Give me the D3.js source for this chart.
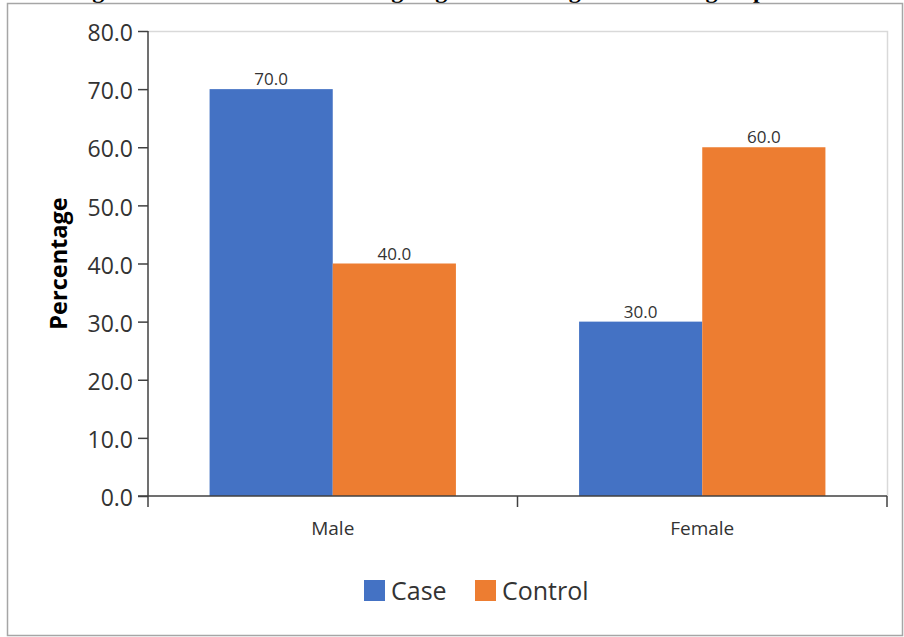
<!DOCTYPE html>
<html>
<head>
<meta charset="utf-8">
<script src="https://cdn.jsdelivr.net/npm/d3@7"></script>
<style>
  html, body { margin: 0; padding: 0; background: #fff; }
  svg { display: block; }
</style>
</head>
<body>
<svg id="chart" width="904" height="637"></svg>
<script>
// Data
const categories = ["Male", "Female"];
const seriesNames = ["Case", "Control"];
const caseValues = [70.0, 30.0];
const controlValues = [40.0, 60.0];
const yTicks = [0, 10, 20, 30, 40, 50, 60, 70, 80];
const colors = ["#4472C4", "#ED7D31"];
const titleText = "Figure 2: Distribution according to gender among the studied groups";

const rows = categories.map((c, i) => ({
  category: c,
  values: [
    { key: seriesNames[0], value: caseValues[i] },
    { key: seriesNames[1], value: controlValues[i] }
  ]
}));

const FONT = "'Open Sans', 'Noto Sans', sans-serif";
const svg = d3.select("#chart");
const W = 904, H = 637;
const margin = { left: 148, right: 17, top: 31, bottom: 141 };
const plotW = W - margin.left - margin.right;
const plotH = H - margin.top - margin.bottom;

// Caption above the frame (runs off the top of the page)
svg.append("text")
  .attr("x", 71).attr("y", -2)
  .attr("font-family", "'Liberation Serif', 'Times New Roman', serif")
  .attr("font-weight", "bold")
  .attr("font-size", 24)
  .attr("fill", "#000")
  .text(titleText);

// Outer frame
svg.append("rect")
  .attr("x", 7.5).attr("y", 3.5)
  .attr("width", 895).attr("height", 632)
  .attr("fill", "none")
  .attr("stroke", "#a6a6a6")
  .attr("stroke-width", 1.5);

const g = svg.append("g").attr("transform", `translate(${margin.left},${margin.top})`);

const x0 = d3.scaleBand().domain(categories).range([0, plotW]).paddingInner(0).paddingOuter(0);
const x1 = d3.scaleBand().domain(seriesNames).range([0, x0.bandwidth()]).paddingInner(0).paddingOuter(0.5);
const y = d3.scaleLinear().domain([0, 80]).range([plotH, 0]);
const color = d3.scaleOrdinal().domain(seriesNames).range(colors);

// Plot-area border (top and right)
g.append("path")
  .attr("d", `M0,0.5H${plotW + 0.5}V${plotH}`)
  .attr("fill", "none")
  .attr("stroke", "#d9d9d9")
  .attr("stroke-width", 1.5);

// Bars
const groups = g.selectAll(".grp").data(rows).enter().append("g")
  .attr("transform", d => `translate(${x0(d.category)},0)`);

groups.selectAll("rect").data(d => d.values).enter().append("rect")
  .attr("x", d => x1(d.key))
  .attr("y", d => y(d.value))
  .attr("width", x1.bandwidth())
  .attr("height", d => plotH - y(d.value))
  .attr("fill", d => color(d.key));

// Value labels
groups.selectAll("text.val").data(d => d.values).enter().append("text")
  .attr("class", "val")
  .attr("x", d => x1(d.key) + x1.bandwidth() / 2)
  .attr("y", d => y(d.value) - 4)
  .attr("text-anchor", "middle")
  .attr("font-family", FONT)
  .attr("font-size", 17)
  .attr("fill", "#333")
  .text(d => d.value.toFixed(1));

// Y axis
const yAxis = g.append("g")
  .call(d3.axisLeft(y).tickValues(yTicks).tickSize(10).tickPadding(5).tickFormat(d => d.toFixed(1)));
yAxis.select(".domain").attr("stroke", "#404040").attr("stroke-width", 1.5).attr("d", `M0,0V${plotH}`);
yAxis.selectAll(".tick line").attr("stroke", "#404040").attr("stroke-width", 1.5);
yAxis.selectAll(".tick text")
  .attr("font-family", FONT)
  .attr("font-size", 23)
  .attr("dy", "0.42em")
  .attr("fill", "#333");

// X axis with boundary ticks between categories
const xAxis = g.append("g").attr("transform", `translate(0,${plotH})`);
xAxis.append("line")
  .attr("x1", -10).attr("x2", plotW)
  .attr("stroke", "#404040").attr("stroke-width", 1.5);
const boundaries = categories.map(c => x0(c)).concat([plotW]);
xAxis.selectAll("line.b").data(boundaries).enter().append("line")
  .attr("class", "b")
  .attr("x1", d => d).attr("x2", d => d)
  .attr("y1", 0).attr("y2", 11)
  .attr("stroke", "#404040").attr("stroke-width", 1.5);
xAxis.selectAll("text").data(categories).enter().append("text")
  .attr("x", d => x0(d) + x0.bandwidth() / 2)
  .attr("y", 39)
  .attr("text-anchor", "middle")
  .attr("font-family", FONT)
  .attr("font-size", 19)
  .attr("fill", "#333")
  .text(d => d);

// Y axis title
svg.append("text")
  .attr("transform", `translate(67,${margin.top + plotH / 2}) rotate(-90)`)
  .attr("text-anchor", "middle")
  .attr("font-family", FONT)
  .attr("font-weight", "bold")
  .attr("font-size", 23.5)
  .attr("fill", "#000")
  .text("Percentage");

// Legend
const legend = svg.append("g").attr("transform", "translate(364,580)");
const legendOffsets = [0, 111];
seriesNames.forEach((s, i) => {
  const lg = legend.append("g").attr("transform", `translate(${legendOffsets[i]},0)`);
  lg.append("rect").attr("width", 21).attr("height", 21).attr("fill", colors[i]);
  lg.append("text")
    .attr("x", 27).attr("y", 20)
    .attr("font-family", FONT)
    .attr("font-size", 25)
    .attr("fill", "#333")
    .text(s);
});
</script>
</body>
</html>
